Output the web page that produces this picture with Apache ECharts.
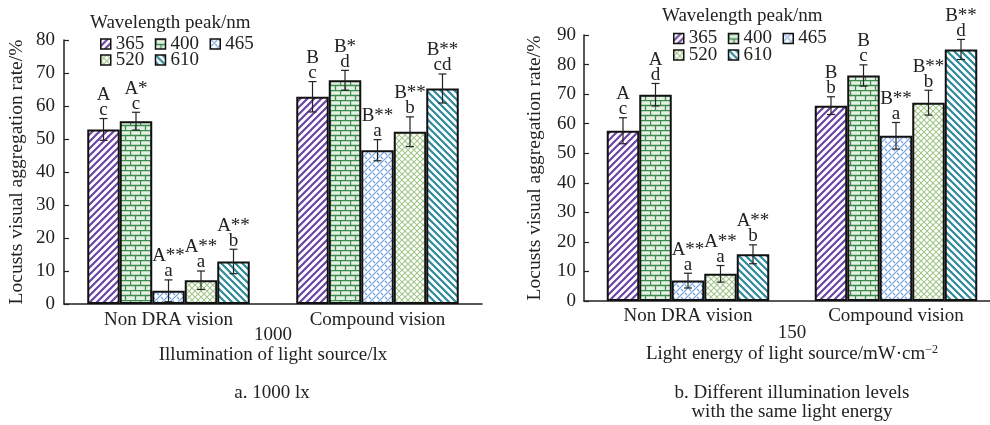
<!DOCTYPE html>
<html>
<head>
<meta charset="utf-8">
<script src="https://cdn.jsdelivr.net/npm/echarts@6/dist/echarts.min.js"></script>
<style>
  html, body { margin: 0; padding: 0; background: #fff; }
  #chart { width: 990px; height: 425px; }
</style>
</head>
<body>
<div id="chart"></div>
<script>
// 数据
const categories = ['Non DRA vision', 'Compound vision'];
const wavelengths = ['365', '400', '465', '520', '610'];

// a. 1000 lx
const meanA_nonDRA = [52.9, 55.4, 4.0, 7.2, 12.9];
const errA_nonDRA = [3.3, 2.7, 3.3, 2.8, 3.7];
const sigA_nonDRA = ['A\nc', 'A*\nc', 'A**\na', 'A**\na', 'A**\nb'];
const meanA_compound = [62.8, 67.8, 46.6, 52.2, 65.3];
const errA_compound = [4.6, 3.0, 3.2, 4.5, 4.4];
const sigA_compound = ['B\nc', 'B*\nd', 'B**\na', 'B**\nb', 'B**\ncd'];

// b. same light energy (150 mW/cm2)
const meanB_nonDRA = [57.6, 69.8, 6.9, 9.2, 15.8];
const errB_nonDRA = [4.4, 3.8, 2.5, 2.8, 3.2];
const sigB_nonDRA = ['A\nc', 'A\nd', 'A**\na', 'A**\na', 'A**\nb'];
const meanB_compound = [66.1, 76.3, 55.9, 67.1, 85.1];
const errB_compound = [3.0, 3.6, 4.5, 4.2, 3.4];
const sigB_compound = ['B\nb', 'B\nc', 'B**\na', 'B**\nb', 'B**\nd'];

const FONT = '"Liberation Serif", "Times New Roman", serif';
const TEXT = '#222';
const BAR_W = 32.5;

// 填充图案
const makePattern = (w, h, draw) => {
  const c = document.createElement('canvas');
  c.width = w;
  c.height = h;
  const ctx = c.getContext('2d');
  ctx.fillStyle = '#fff';
  ctx.fillRect(0, 0, w, h);
  draw(ctx, w, h);
  return { image: c, repeat: 'repeat' };
};

const stripes = (color, dir, size, width) =>
  makePattern(size, size, (ctx, w, h) => {
    ctx.strokeStyle = color;
    ctx.lineWidth = width;
    ctx.beginPath();
    for (const o of [-w, 0, w]) {
      if (dir > 0) {
        ctx.moveTo(o - 1, h + 1);
        ctx.lineTo(o + w + 1, -1);
      } else {
        ctx.moveTo(o - 1, -1);
        ctx.lineTo(o + w + 1, h + 1);
      }
    }
    ctx.stroke();
  });

const bricks = makePattern(10, 10, (ctx) => {
  ctx.fillStyle = '#e4f0e4';
  ctx.fillRect(1, 1, 9, 4);
  ctx.fillRect(0, 6, 5, 4);
  ctx.fillRect(6, 6, 4, 4);
  ctx.strokeStyle = '#3c8a4c';
  ctx.lineWidth = 1.3;
  ctx.beginPath();
  ctx.moveTo(0, 0.5); ctx.lineTo(10, 0.5);
  ctx.moveTo(0, 5.5); ctx.lineTo(10, 5.5);
  ctx.moveTo(0.5, 0); ctx.lineTo(0.5, 5.5);
  ctx.moveTo(5.5, 5.5); ctx.lineTo(5.5, 10);
  ctx.stroke();
});

// 465: 斜向链状纹
const links = makePattern(8, 8, (ctx, w, h) => {
  ctx.strokeStyle = '#6f9fdc';
  ctx.lineWidth = 1.2;
  ctx.beginPath();
  for (const o of [-w, 0, w]) {
    ctx.moveTo(o - 1, h + 1);
    ctx.lineTo(o + w + 1, -1);
  }
  ctx.moveTo(1, 1); ctx.lineTo(3, 3);
  ctx.moveTo(5, 5); ctx.lineTo(7, 7);
  ctx.stroke();
});

const diamonds = makePattern(6, 6, (ctx, w, h) => {
  ctx.strokeStyle = '#a3c68a';
  ctx.lineWidth = 1.1;
  ctx.beginPath();
  ctx.moveTo(0, 0); ctx.lineTo(w, h);
  ctx.moveTo(0, h); ctx.lineTo(w, 0);
  ctx.stroke();
});

const patterns = [
  stripes('#6a45a3', 1, 7, 2.2),
  bricks,
  links,
  diamonds,
  stripes('#2e8a9a', -1, 7, 2.2),
];

// 误差线 + 显著性字母
const renderErr = (labels) => (params, api) => {
  const cat = api.value(0);
  const si = api.value(1);
  const mean = api.value(2);
  const err = api.value(3);
  const x = api.coord([cat, mean])[0] + (si - 2) * BAR_W;
  const yTop = api.coord([cat, mean + err])[1];
  const yBot = api.coord([cat, mean - err])[1];
  const cap = 4;
  const ls = { stroke: '#222', lineWidth: 1.2 };
  return {
    type: 'group',
    children: [
      { type: 'line', shape: { x1: x, y1: yTop, x2: x, y2: yBot }, style: ls },
      { type: 'line', shape: { x1: x - cap, y1: yTop, x2: x + cap, y2: yTop }, style: ls },
      { type: 'line', shape: { x1: x - cap, y1: yBot, x2: x + cap, y2: yBot }, style: ls },
      {
        type: 'text',
        x: x,
        y: yTop - 1,
        style: {
          text: labels[params.dataIndex],
          align: 'center',
          verticalAlign: 'bottom',
          fontFamily: FONT,
          fontSize: 19,
          lineHeight: 15,
          fill: TEXT,
        },
      },
    ],
  };
};

const panels = [
  { nonDRA: meanA_nonDRA, compound: meanA_compound, errN: errA_nonDRA, errC: errA_compound, sigN: sigA_nonDRA, sigC: sigA_compound },
  { nonDRA: meanB_nonDRA, compound: meanB_compound, errN: errB_nonDRA, errC: errB_compound, sigN: sigB_nonDRA, sigC: sigB_compound },
];

const series = [];
panels.forEach((p, pi) => {
  wavelengths.forEach((w, i) => {
    series.push({
      name: w,
      type: 'bar',
      xAxisIndex: pi,
      yAxisIndex: pi,
      data: [p.nonDRA[i], p.compound[i]],
      barWidth: BAR_W,
      barGap: '0%',
      itemStyle: { color: patterns[i], borderColor: '#111', borderWidth: 2 },
    });
  });
  const errData = [];
  const labels = [];
  wavelengths.forEach((w, i) => {
    errData.push([0, i, p.nonDRA[i], p.errN[i]]);
    labels.push(p.sigN[i]);
    errData.push([1, i, p.compound[i], p.errC[i]]);
    labels.push(p.sigC[i]);
  });
  series.push({
    name: 'err' + pi,
    type: 'custom',
    xAxisIndex: pi,
    yAxisIndex: pi,
    encode: { x: 0, y: 2 },
    data: errData,
    renderItem: renderErr(labels),
    z: 5,
  });
});

const legendBase = {
  icon: 'rect',
  itemWidth: 10,
  itemHeight: 10,
  itemGap: 10.5,
  padding: 0,
  selectedMode: false,
  itemStyle: { borderColor: '#111', borderWidth: 1.5 },
  textStyle: { fontFamily: FONT, fontSize: 19, color: TEXT },
};

const xNames = [
  '{n|1000}\n{t|Illumination of light source/lx}',
  '{n|150}\n{t|Light energy of light source/mW·cm}{s|−2}',
];

const option = {
  animation: false,
  textStyle: { fontFamily: FONT },
  grid: [
    { left: 64, top: 40, width: 418, height: 264, outerBoundsMode: 'none', containLabel: false },
    { left: 584, top: 35, width: 416, height: 266, outerBoundsMode: 'none', containLabel: false },
  ],
  legend: [
    { ...legendBase, data: wavelengths.slice(0, 3), left: 100, top: 34.5 },
    { ...legendBase, data: wavelengths.slice(3), left: 100, top: 50.5 },
    { ...legendBase, data: wavelengths.slice(0, 3), left: 673, top: 29 },
    { ...legendBase, data: wavelengths.slice(3), left: 673, top: 45.5 },
  ],
  xAxis: [0, 1].map((pi) => ({
    gridIndex: pi,
    type: 'category',
    data: categories,
    name: xNames[pi],
    nameLocation: 'middle',
    nameGap: pi ? 22 : 21,
    nameMoveOverlap: false,
    nameTextStyle: {
      rich: {
        n: { fontFamily: FONT, fontSize: 19, lineHeight: pi ? 21 : 20, color: TEXT },
        t: { fontFamily: FONT, fontSize: 19, lineHeight: pi ? 21 : 20, color: TEXT },
        s: { fontFamily: FONT, fontSize: 12, lineHeight: 12, color: TEXT, verticalAlign: 'top' },
      },
    },
    axisLine: { lineStyle: { color: '#222', width: 1.5 } },
    axisTick: { inside: true, length: 6, lineStyle: { color: '#222', width: 1.2 } },
    axisLabel: { fontFamily: FONT, fontSize: 19, color: TEXT, margin: pi ? 6 : 7 },
    splitLine: { show: false },
  })),
  yAxis: [0, 1].map((pi) => ({
    gridIndex: pi,
    type: 'value',
    min: 0,
    max: pi ? 90 : 80,
    interval: 10,
    name: 'Locusts visual aggregation rate/%',
    nameLocation: 'middle',
    nameRotate: 90,
    nameGap: pi ? 39 : 37,
    nameMoveOverlap: false,
    nameTextStyle: { fontFamily: FONT, fontSize: 19.5, color: TEXT },
    axisLine: { show: true, lineStyle: { color: '#222', width: 1.5 } },
    axisTick: { show: true, inside: true, length: 5, lineStyle: { color: '#222', width: 1.2 } },
    axisLabel: { fontFamily: FONT, fontSize: 19, color: TEXT, margin: pi ? 8 : 9 },
    splitLine: { show: false },
  })),
  graphic: [
    { type: 'text', x: 90, y: 23, style: { text: 'Wavelength peak/nm', fontFamily: FONT, fontSize: 19, fill: TEXT, verticalAlign: 'middle' } },
    { type: 'text', x: 662, y: 16, style: { text: 'Wavelength peak/nm', fontFamily: FONT, fontSize: 19, fill: TEXT, verticalAlign: 'middle' } },
    { type: 'text', x: 272, y: 393, style: { text: 'a. 1000 lx', fontFamily: FONT, fontSize: 19, fill: TEXT, align: 'center', verticalAlign: 'middle' } },
    {
      type: 'text', x: 792, y: 402.5,
      style: { text: 'b. Different illumination levels\nwith the same light energy', fontFamily: FONT, fontSize: 19, lineHeight: 19, fill: TEXT, align: 'center', verticalAlign: 'middle' },
    },
  ],
  series: series,
};

const chart = echarts.init(document.getElementById('chart'));
chart.setOption(option);
window.addEventListener('resize', () => chart.resize());
</script>
</body>
</html>
